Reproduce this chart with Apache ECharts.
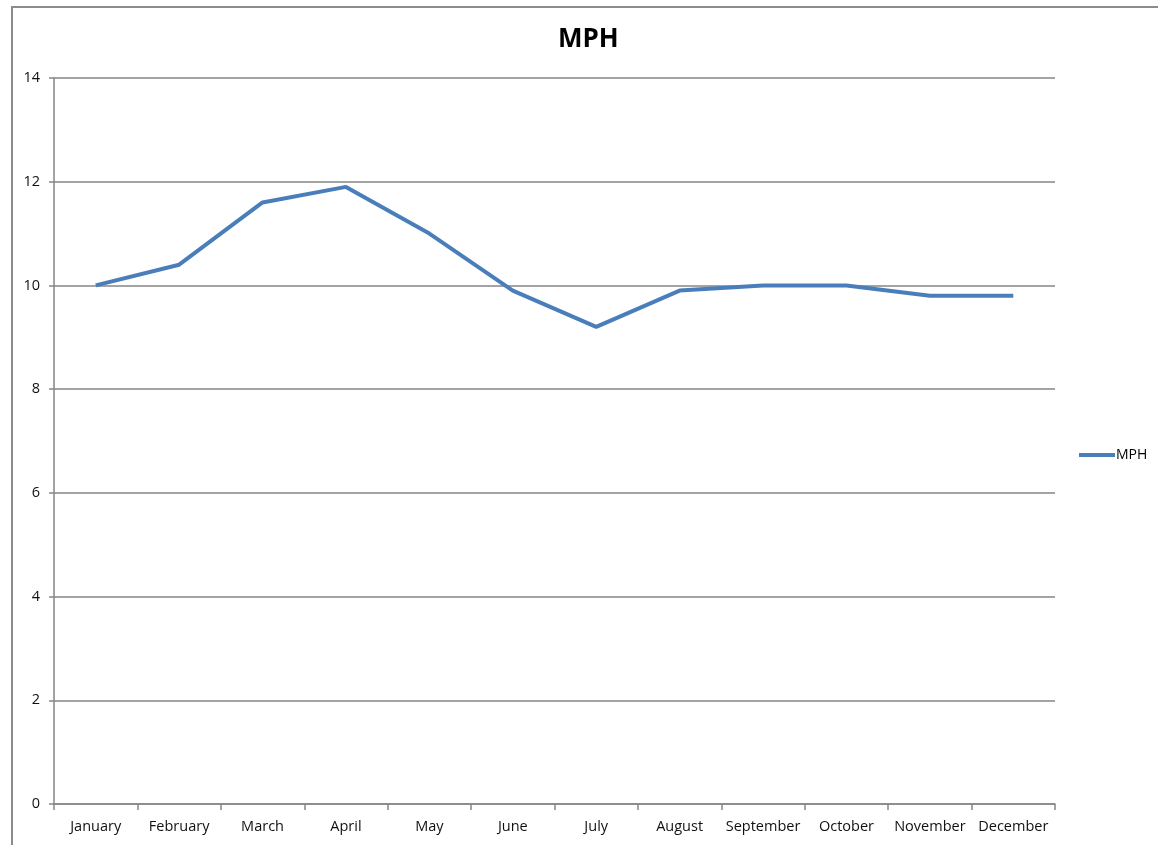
<!DOCTYPE html>
<html><head><meta charset="utf-8">
<script src="https://cdn.jsdelivr.net/npm/echarts@6/dist/echarts.min.js"></script>
<style>
html,body{margin:0;padding:0;background:#fff;overflow:hidden;}
#frame{position:absolute;left:11px;top:6px;width:1200px;height:900px;border:2px solid #8c8c8c;box-sizing:border-box;}
#chart{position:absolute;left:0;top:0;width:1158px;height:845px;}
</style></head>
<body>
<div id="frame"></div>
<div id="chart"></div>
<script>
const months = ["January","February","March","April","May","June","July","August","September","October","November","December"];
const mph = [10.0,10.4,11.6,11.9,11.0,9.9,9.2,9.9,10.0,10.0,9.8,9.8];
const yTicks = {min:0,max:14,interval:2};

const chart = echarts.init(document.getElementById('chart'));
const font = "'Open Sans', 'Liberation Sans', sans-serif";
chart.setOption({
  backgroundColor:'transparent',
  animation:false,
  title:{text:'MPH',left:553,top:22,
    textStyle:{fontFamily:font,fontSize:26,fontWeight:'bold',color:'#000'}},
  legend:{left:1074,top:443,icon:'rect',itemWidth:36,itemHeight:4,
    textStyle:{fontFamily:font,fontSize:14,color:'#000',padding:[0,0,0,-4]},
    data:['MPH']},
  grid:{left:54,top:78,right:103,bottom:41,containLabel:false},
  xAxis:{type:'category',data:months,boundaryGap:true,
    axisLine:{lineStyle:{color:'#868686',width:1.5}},
    axisTick:{show:true,length:6,lineStyle:{color:'#868686',width:1.5},alignWithLabel:false},
    axisLabel:{fontFamily:font,fontSize:14.5,color:'#111',margin:15,interval:0}},
  yAxis:{type:'value',min:yTicks.min,max:yTicks.max,interval:yTicks.interval,
    axisLine:{show:true,lineStyle:{color:'#868686',width:1.5}},
    axisTick:{show:true,length:5,lineStyle:{color:'#868686',width:1.5}},
    splitLine:{lineStyle:{color:'#868686',width:1.5}},
    axisLabel:{fontFamily:font,fontSize:14.5,color:'#111',margin:14}},
  series:[{name:'MPH',type:'line',data:mph,showSymbol:false,symbol:'none',
    lineStyle:{color:'#4a7ebb',width:4},itemStyle:{color:'#4a7ebb'}}]
});
</script>
</body></html>
